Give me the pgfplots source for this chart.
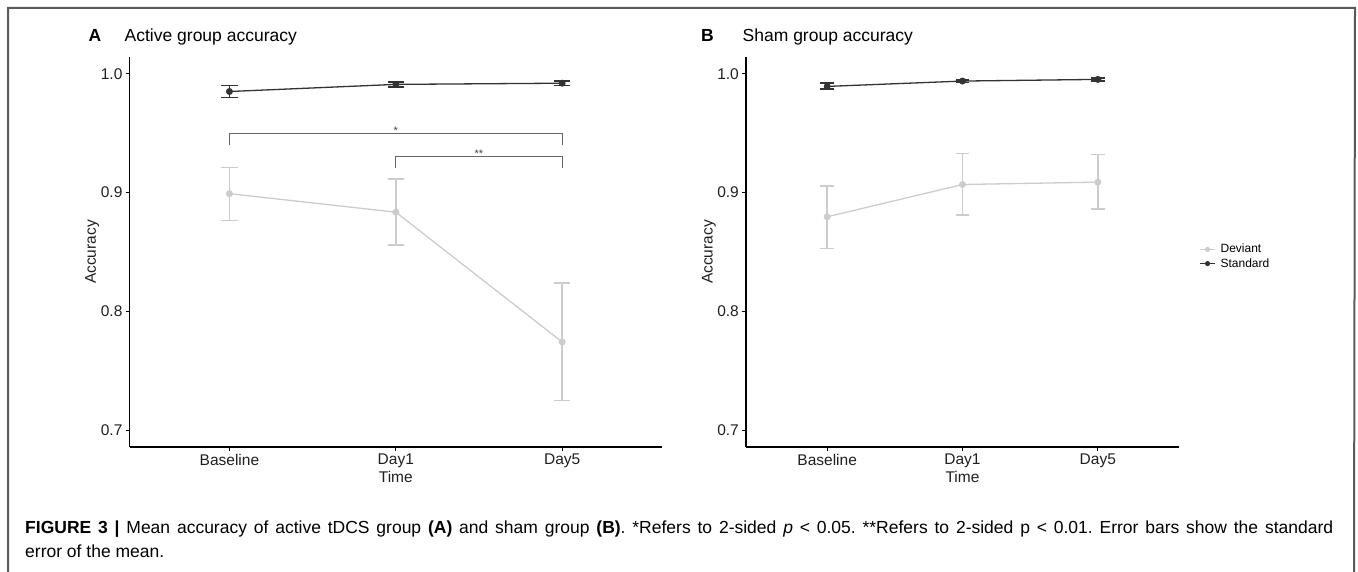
\documentclass[border=0pt]{standalone}
\usepackage{fontspec}
\setmainfont{Liberation Sans}
\usepackage{pgfplots}
\pgfplotsset{compat=1.18}
\definecolor{dev}{HTML}{CCCCCC}
\definecolor{std}{HTML}{333333}
\definecolor{brk}{HTML}{666666}
\definecolor{frm}{HTML}{5A5A5A}
\pgfplotsset{
  panel/.style={
    scale only axis, height=390pt,
    xmin=0.4, xmax=3.6, ymin=0.68567, ymax=1.01407,
    axis lines*=left, axis line style={black, line width=1.1pt, -},
    xtick={1,2,3}, xticklabels={Baseline,Day1,Day5},
    ytick={0.7,0.8,0.9,1.0}, yticklabels={0.7,0.8,0.9,1.0},
    xtick pos=bottom, ytick pos=left, minor tick num=0,
    tick align=outside, major tick length=4pt,
    tick style={black, line width=0.9pt},
    ticklabel style={font=\fontsize{15.5}{18}\selectfont, text=black!88, inner sep=3pt},
    /pgf/number format/assume math mode=true,
    clip=false,
  },
  devplot/.style={dev, line width=1.3pt, mark=*, mark size=2.8pt,
    mark options={solid, fill=dev, draw=dev},
    error bars/.cd, y dir=both, y explicit,
    error bar style={line width=1.5pt, dev},
    error mark options={rotate=90, mark size=#1, line width=1.5pt, dev}},
  stdplot/.style={std, line width=1.3pt, mark=*, mark size=2.8pt,
    mark options={solid, fill=std, draw=std},
    error bars/.cd, y dir=both, y explicit,
    error bar style={line width=1.5pt, std},
    error mark options={rotate=90, mark size=#1, line width=1.5pt, std}},
}
\begin{document}
\frenchspacing
\begin{tikzpicture}
\useasboundingbox (0pt,0pt) rectangle (1358pt,571pt);
% frame
\draw[frm, line width=2pt] (8pt,-5pt) -- (8pt,563pt) -- (1355pt,563pt) -- (1354pt,-5pt);
% titles
\node[anchor=base west, inner sep=0pt, font=\bfseries\fontsize{17.5}{20}\selectfont] at (88.5pt,529pt) {A};
\node[anchor=base west, inner sep=0pt, font=\fontsize{17.5}{20}\selectfont] at (124.5pt,529pt) {Active group accuracy};
\node[anchor=base west, inner sep=0pt, font=\bfseries\fontsize{17.5}{20}\selectfont] at (701pt,529pt) {B};
\node[anchor=base west, inner sep=0pt, font=\fontsize{17.5}{20}\selectfont] at (742.5pt,529pt) {Sham group accuracy};

% Panel A
\begin{axis}[panel, width=532.4pt, at={(129.6pt,124pt)}, anchor=south west]
\addplot[brk, line width=1.2pt, mark=none] coordinates {(1,0.9400) (1,0.9494) (3,0.9494) (3,0.9400)};
\addplot[brk, line width=1.2pt, mark=none] coordinates {(2,0.9206) (2,0.9300) (3,0.9300) (3,0.9206)};
\node[font=\fontsize{11}{11}\selectfont, text=black!75] at (axis cs:2,0.9523) {*};
\node[font=\fontsize{11}{11}\selectfont, text=black!75] at (axis cs:2.5,0.9323) {**};
\addplot[devplot=8.3pt] table[x=x, y=y, y error plus=ep, y error minus=em] {
x y ep em
1 0.8990 0.0220 0.0226
2 0.8834 0.0278 0.0278
3 0.7741 0.0495 0.0491
};
\addplot[stdplot=8.3pt] table[x=x, y=y, y error plus=ep, y error minus=em] {
x y ep em
1 0.9850 0.0050 0.0050
2 0.9910 0.0020 0.0020
3 0.9920 0.0020 0.0020
};
\node[rotate=90, font=\fontsize{15.5}{18}\selectfont, text=black!88] at (axis description cs:-0.0704,0.5) {Accuracy};
\node[anchor=base, font=\fontsize{15.5}{18}\selectfont, text=black!88] at (axis description cs:0.5,-0.0923) {Time};
\end{axis}

% Panel B
\begin{axis}[panel, width=433pt, at={(746pt,124pt)}, anchor=south west,
  legend style={at={(axis description cs:1.04,0.4885)}, anchor=west, draw=none, fill=none,
    font=\fontsize{12}{14}\selectfont, row sep=0pt, column sep=3pt,
    nodes={inner sep=2pt}},
  legend cell align=left,
  legend image code/.code={\draw[mark repeat=2, mark phase=2, mark size=2pt, line width=1.1pt] plot coordinates {(0pt,0pt) (7.5pt,0pt) (15pt,0pt)};}]
\addplot[devplot=6.8pt] table[x=x, y=y, y error plus=ep, y error minus=em] {
x y ep em
1 0.8795 0.0261 0.0268
2 0.9067 0.0260 0.0258
3 0.9087 0.0233 0.0228
};
\addlegendentry{Deviant}
\addplot[stdplot=6.8pt] table[x=x, y=y, y error plus=ep, y error minus=em] {
x y ep em
1 0.9893 0.0029 0.0023
2 0.9938 0.0010 0.0010
3 0.9952 0.0012 0.0012
};
\addlegendentry{Standard}
\node[rotate=90, font=\fontsize{15.5}{18}\selectfont, text=black!88] at (axis description cs:-0.0855,0.5) {Accuracy};
\node[anchor=base, font=\fontsize{15.5}{18}\selectfont, text=black!88] at (axis description cs:0.5,-0.0923) {Time};
\end{axis}

% caption
\node[anchor=base west, inner sep=0pt, text width=1308pt, align=justify, font=\fontsize{17.5}{24}\selectfont] at (25pt,38pt)
{\textbf{FIGURE 3 |} Mean accuracy of active tDCS group \textbf{(A)} and sham group \textbf{(B)}. *Refers to 2-sided \textit{p} < 0.05. **Refers to 2-sided p < 0.01. Error bars show the standard\linebreak error of the mean.};
\end{tikzpicture}
\end{document}
